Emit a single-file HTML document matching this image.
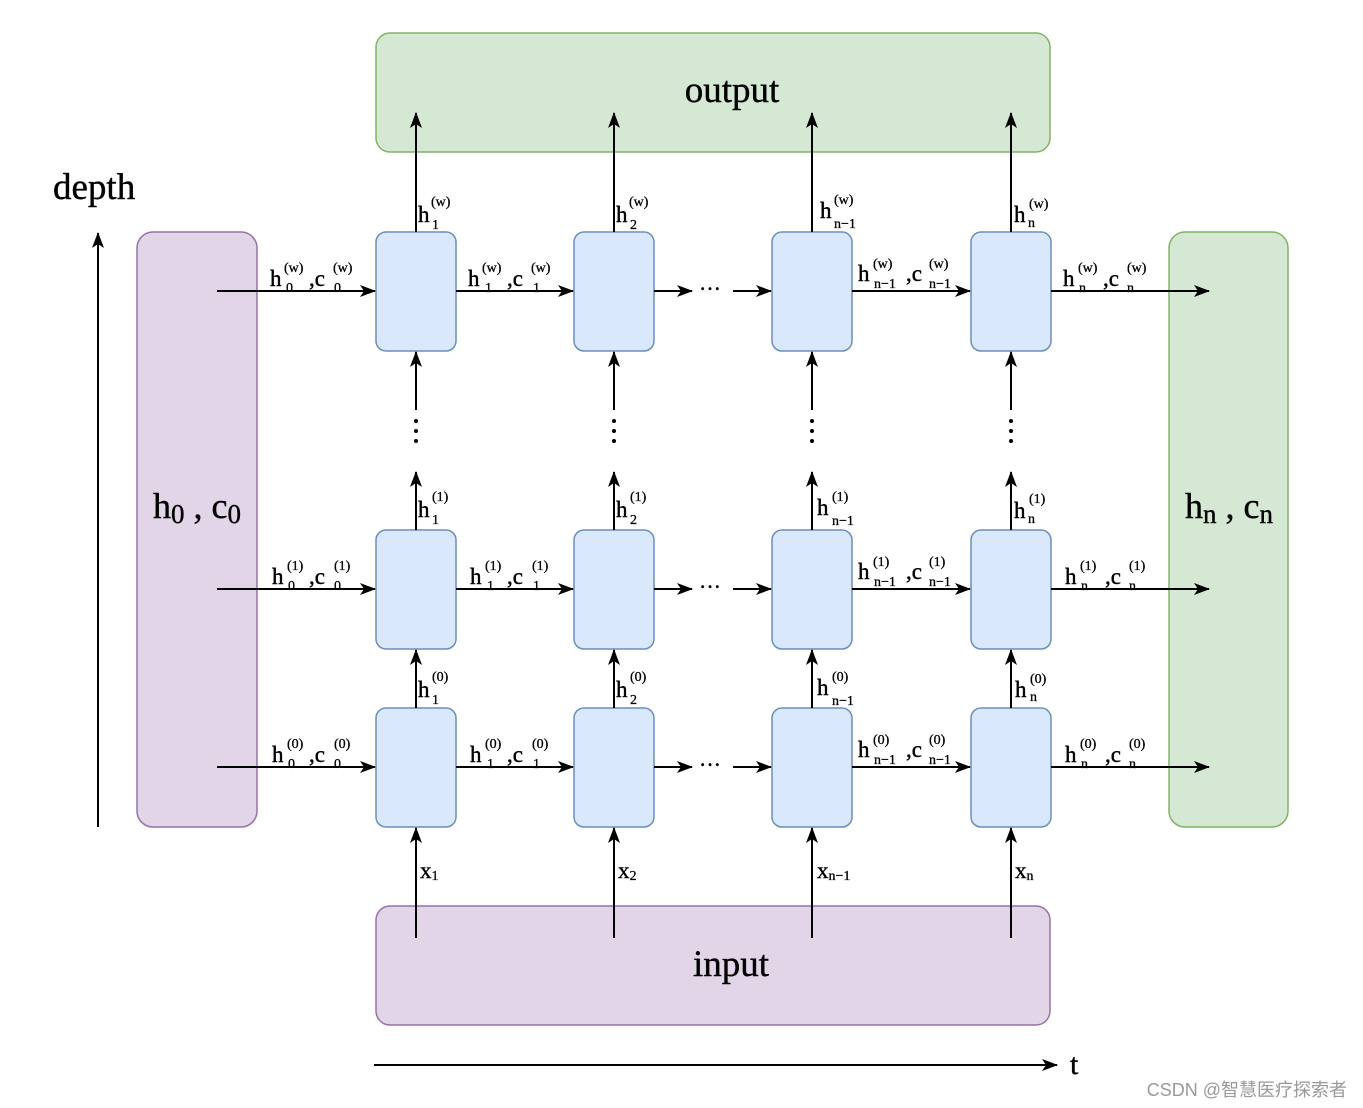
<!DOCTYPE html>
<html><head><meta charset="utf-8"><style>
html,body{margin:0;padding:0;background:#fff}
svg{display:block}
text{font-family:"Liberation Serif",serif;fill:#000}
.b{font-size:23px;stroke:#000;stroke-width:0.4}.s{font-size:14px;stroke:#000;stroke-width:0.3}
</style></head><body>
<svg width="1363" height="1108" viewBox="0 0 1363 1108" xmlns="http://www.w3.org/2000/svg">
<defs>
<marker id="a" viewBox="0 0 16 12" refX="15" refY="6" markerWidth="16" markerHeight="12" markerUnits="userSpaceOnUse" orient="auto">
<path d="M0,0 L16,6 L0,12 L4,6 Z" fill="#000"/></marker>
</defs>
<rect x="376" y="33" width="674" height="119" rx="14" fill="#d5e8d4" stroke="#82b366" stroke-width="1.5"/>
<rect x="376" y="906" width="674" height="119" rx="14" fill="#e1d5e7" stroke="#9673a6" stroke-width="1.5"/>
<rect x="137" y="232" width="120" height="595" rx="16" fill="#e1d5e7" stroke="#9673a6" stroke-width="1.5"/>
<rect x="1169" y="232" width="119" height="595" rx="16" fill="#d5e8d4" stroke="#82b366" stroke-width="1.5"/>
<text x="732" y="102" font-size="37" text-anchor="middle" stroke="#000" stroke-width="0.4">output</text>
<text x="731" y="976" font-size="37" text-anchor="middle" stroke="#000" stroke-width="0.4">input</text>
<text x="53" y="199" font-size="37" stroke="#000" stroke-width="0.4">depth</text>
<text x="153" y="518" font-size="36" stroke="#000" stroke-width="0.4">h<tspan font-size="27" dy="5">0</tspan><tspan dy="-5"> , c</tspan><tspan font-size="27" dy="5">0</tspan></text>
<text x="1185" y="518" font-size="36" stroke="#000" stroke-width="0.4">h<tspan font-size="27" dy="5">n</tspan><tspan dy="-5"> , c</tspan><tspan font-size="27" dy="5">n</tspan></text>
<g stroke="#000" stroke-width="2" fill="none">
<line x1="98" y1="827" x2="98" y2="233" marker-end="url(#a)"/>
<line x1="374" y1="1065" x2="1057" y2="1065" marker-end="url(#a)"/>
</g>
<text x="1070" y="1074" font-size="30" stroke="#000" stroke-width="0.4">t</text>
<g fill="#dae8fc" stroke="#6c8ebf" stroke-width="1.5">
<rect x="376" y="232" width="80" height="119" rx="10"/><rect x="574" y="232" width="80" height="119" rx="10"/><rect x="772" y="232" width="80" height="119" rx="10"/><rect x="971" y="232" width="80" height="119" rx="10"/>
<rect x="376" y="530" width="80" height="119" rx="10"/><rect x="574" y="530" width="80" height="119" rx="10"/><rect x="772" y="530" width="80" height="119" rx="10"/><rect x="971" y="530" width="80" height="119" rx="10"/>
<rect x="376" y="708" width="80" height="119" rx="10"/><rect x="574" y="708" width="80" height="119" rx="10"/><rect x="772" y="708" width="80" height="119" rx="10"/><rect x="971" y="708" width="80" height="119" rx="10"/>
</g>
<g stroke="#000" stroke-width="2" fill="none" marker-end="url(#a)">
<line x1="217" y1="291" x2="375" y2="291"/><line x1="456" y1="291" x2="573" y2="291"/><line x1="654" y1="291" x2="692" y2="291"/><line x1="733" y1="291" x2="771" y2="291"/><line x1="852" y1="291" x2="970" y2="291"/><line x1="1051" y1="291" x2="1209" y2="291"/>
<line x1="217" y1="589" x2="375" y2="589"/><line x1="456" y1="589" x2="573" y2="589"/><line x1="654" y1="589" x2="692" y2="589"/><line x1="733" y1="589" x2="771" y2="589"/><line x1="852" y1="589" x2="970" y2="589"/><line x1="1051" y1="589" x2="1209" y2="589"/>
<line x1="217" y1="767" x2="375" y2="767"/><line x1="456" y1="767" x2="573" y2="767"/><line x1="654" y1="767" x2="692" y2="767"/><line x1="733" y1="767" x2="771" y2="767"/><line x1="852" y1="767" x2="970" y2="767"/><line x1="1051" y1="767" x2="1209" y2="767"/>
<line x1="416" y1="232" x2="416" y2="113"/><line x1="614" y1="232" x2="614" y2="113"/><line x1="812" y1="232" x2="812" y2="113"/><line x1="1011" y1="232" x2="1011" y2="113"/>
<line x1="416" y1="410" x2="416" y2="352"/><line x1="614" y1="410" x2="614" y2="352"/><line x1="812" y1="410" x2="812" y2="352"/><line x1="1011" y1="410" x2="1011" y2="352"/>
<line x1="416" y1="530" x2="416" y2="472"/><line x1="614" y1="530" x2="614" y2="472"/><line x1="812" y1="530" x2="812" y2="472"/><line x1="1011" y1="530" x2="1011" y2="472"/>
<line x1="416" y1="708" x2="416" y2="650"/><line x1="614" y1="708" x2="614" y2="650"/><line x1="812" y1="708" x2="812" y2="650"/><line x1="1011" y1="708" x2="1011" y2="650"/>
<line x1="416" y1="938" x2="416" y2="828"/><line x1="614" y1="938" x2="614" y2="828"/><line x1="812" y1="938" x2="812" y2="828"/><line x1="1011" y1="938" x2="1011" y2="828"/>
</g>
<g fill="#000">
<circle cx="416" cy="421" r="2"/><circle cx="416" cy="431" r="2"/><circle cx="416" cy="441" r="2"/>
<circle cx="614" cy="421" r="2"/><circle cx="614" cy="431" r="2"/><circle cx="614" cy="441" r="2"/>
<circle cx="812" cy="421" r="2"/><circle cx="812" cy="431" r="2"/><circle cx="812" cy="441" r="2"/>
<circle cx="1011" cy="421" r="2"/><circle cx="1011" cy="431" r="2"/><circle cx="1011" cy="441" r="2"/>
</g>
<text x="699" y="296" font-size="22" stroke="#000" stroke-width="0.4">···</text><text x="699" y="594" font-size="22" stroke="#000" stroke-width="0.4">···</text><text x="699" y="772" font-size="22" stroke="#000" stroke-width="0.4">···</text>
<g>
<text class="b" x="418" y="222">h</text><text class="s" x="431" y="206">(w)</text><text class="s" x="432" y="229">1</text>
<text class="b" x="616" y="222">h</text><text class="s" x="629" y="206">(w)</text><text class="s" x="630" y="229">2</text>
<text class="b" x="820" y="218">h</text><text class="s" x="834" y="204">(w)</text><text class="s" x="834" y="228">n−1</text>
<text class="b" x="1014" y="222">h</text><text class="s" x="1029" y="208">(w)</text><text class="s" x="1028" y="227">n</text>
<text class="b" x="418" y="517">h</text><text class="s" x="432" y="501">(1)</text><text class="s" x="432" y="524">1</text>
<text class="b" x="616" y="517">h</text><text class="s" x="630" y="501">(1)</text><text class="s" x="630" y="524">2</text>
<text class="b" x="817" y="515">h</text><text class="s" x="832" y="501">(1)</text><text class="s" x="832" y="525">n−1</text>
<text class="b" x="1014" y="518">h</text><text class="s" x="1029" y="503">(1)</text><text class="s" x="1028" y="523">n</text>
<text class="b" x="418" y="697">h</text><text class="s" x="432" y="681">(0)</text><text class="s" x="432" y="704">1</text>
<text class="b" x="616" y="697">h</text><text class="s" x="630" y="681">(0)</text><text class="s" x="630" y="704">2</text>
<text class="b" x="817" y="695">h</text><text class="s" x="832" y="681">(0)</text><text class="s" x="832" y="705">n−1</text>
<text class="b" x="1015" y="697">h</text><text class="s" x="1030" y="683">(0)</text><text class="s" x="1030" y="701">n</text>
<text class="b" x="420" y="878">x<tspan class="s" font-size="15" dy="2">1</tspan></text>
<text class="b" x="618" y="878">x<tspan class="s" font-size="15" dy="2">2</tspan></text>
<text class="b" x="817" y="878">x<tspan class="s" font-size="15" dy="2">n−1</tspan></text>
<text class="b" x="1015" y="878">x<tspan class="s" font-size="15" dy="2">n</tspan></text>
</g>
<g>
<text class="b" x="270" y="286">h</text><text class="s" x="284" y="272">(w)</text><text class="s" x="286" y="292">0</text><text class="b" x="309" y="286">,c</text><text class="s" x="333" y="272">(w)</text><text class="s" x="334" y="292">0</text>
<text class="b" x="468" y="286">h</text><text class="s" x="482" y="272">(w)</text><text class="s" x="485" y="292">1</text><text class="b" x="507" y="286">,c</text><text class="s" x="531" y="272">(w)</text><text class="s" x="533" y="292">1</text>
<text class="b" x="858" y="281">h</text><text class="s" x="873" y="268">(w)</text><text class="s" x="874" y="288">n−1</text><text class="b" x="906" y="281">,c</text><text class="s" x="929" y="268">(w)</text><text class="s" x="929" y="288">n−1</text>
<text class="b" x="1063" y="286">h</text><text class="s" x="1078" y="272">(w)</text><text class="s" x="1079" y="292">n</text><text class="b" x="1103" y="286">,c</text><text class="s" x="1127" y="272">(w)</text><text class="s" x="1127" y="292">n</text>

<text class="b" x="272" y="584">h</text><text class="s" x="287" y="570">(1)</text><text class="s" x="288" y="590">0</text><text class="b" x="309" y="584">,c</text><text class="s" x="334" y="570">(1)</text><text class="s" x="334" y="590">0</text>
<text class="b" x="470" y="584">h</text><text class="s" x="485" y="570">(1)</text><text class="s" x="487" y="590">1</text><text class="b" x="507" y="584">,c</text><text class="s" x="532" y="570">(1)</text><text class="s" x="533" y="590">1</text>
<text class="b" x="858" y="579">h</text><text class="s" x="873" y="566">(1)</text><text class="s" x="874" y="586">n−1</text><text class="b" x="906" y="579">,c</text><text class="s" x="929" y="566">(1)</text><text class="s" x="929" y="586">n−1</text>
<text class="b" x="1065" y="584">h</text><text class="s" x="1080" y="570">(1)</text><text class="s" x="1081" y="590">n</text><text class="b" x="1105" y="584">,c</text><text class="s" x="1129" y="570">(1)</text><text class="s" x="1129" y="590">n</text>

<text class="b" x="272" y="762">h</text><text class="s" x="287" y="748">(0)</text><text class="s" x="288" y="768">0</text><text class="b" x="309" y="762">,c</text><text class="s" x="334" y="748">(0)</text><text class="s" x="334" y="768">0</text>
<text class="b" x="470" y="762">h</text><text class="s" x="485" y="748">(0)</text><text class="s" x="487" y="768">1</text><text class="b" x="507" y="762">,c</text><text class="s" x="532" y="748">(0)</text><text class="s" x="533" y="768">1</text>
<text class="b" x="858" y="757">h</text><text class="s" x="873" y="744">(0)</text><text class="s" x="874" y="764">n−1</text><text class="b" x="906" y="757">,c</text><text class="s" x="929" y="744">(0)</text><text class="s" x="929" y="764">n−1</text>
<text class="b" x="1065" y="762">h</text><text class="s" x="1080" y="748">(0)</text><text class="s" x="1081" y="768">n</text><text class="b" x="1105" y="762">,c</text><text class="s" x="1129" y="748">(0)</text><text class="s" x="1129" y="768">n</text>
</g>
<text x="1347" y="1096" font-size="18" text-anchor="end" style="font-family:'Liberation Sans','Noto Sans CJK SC',sans-serif;fill:#999">CSDN @智慧医疗探索者</text>
</svg>
</body></html>
